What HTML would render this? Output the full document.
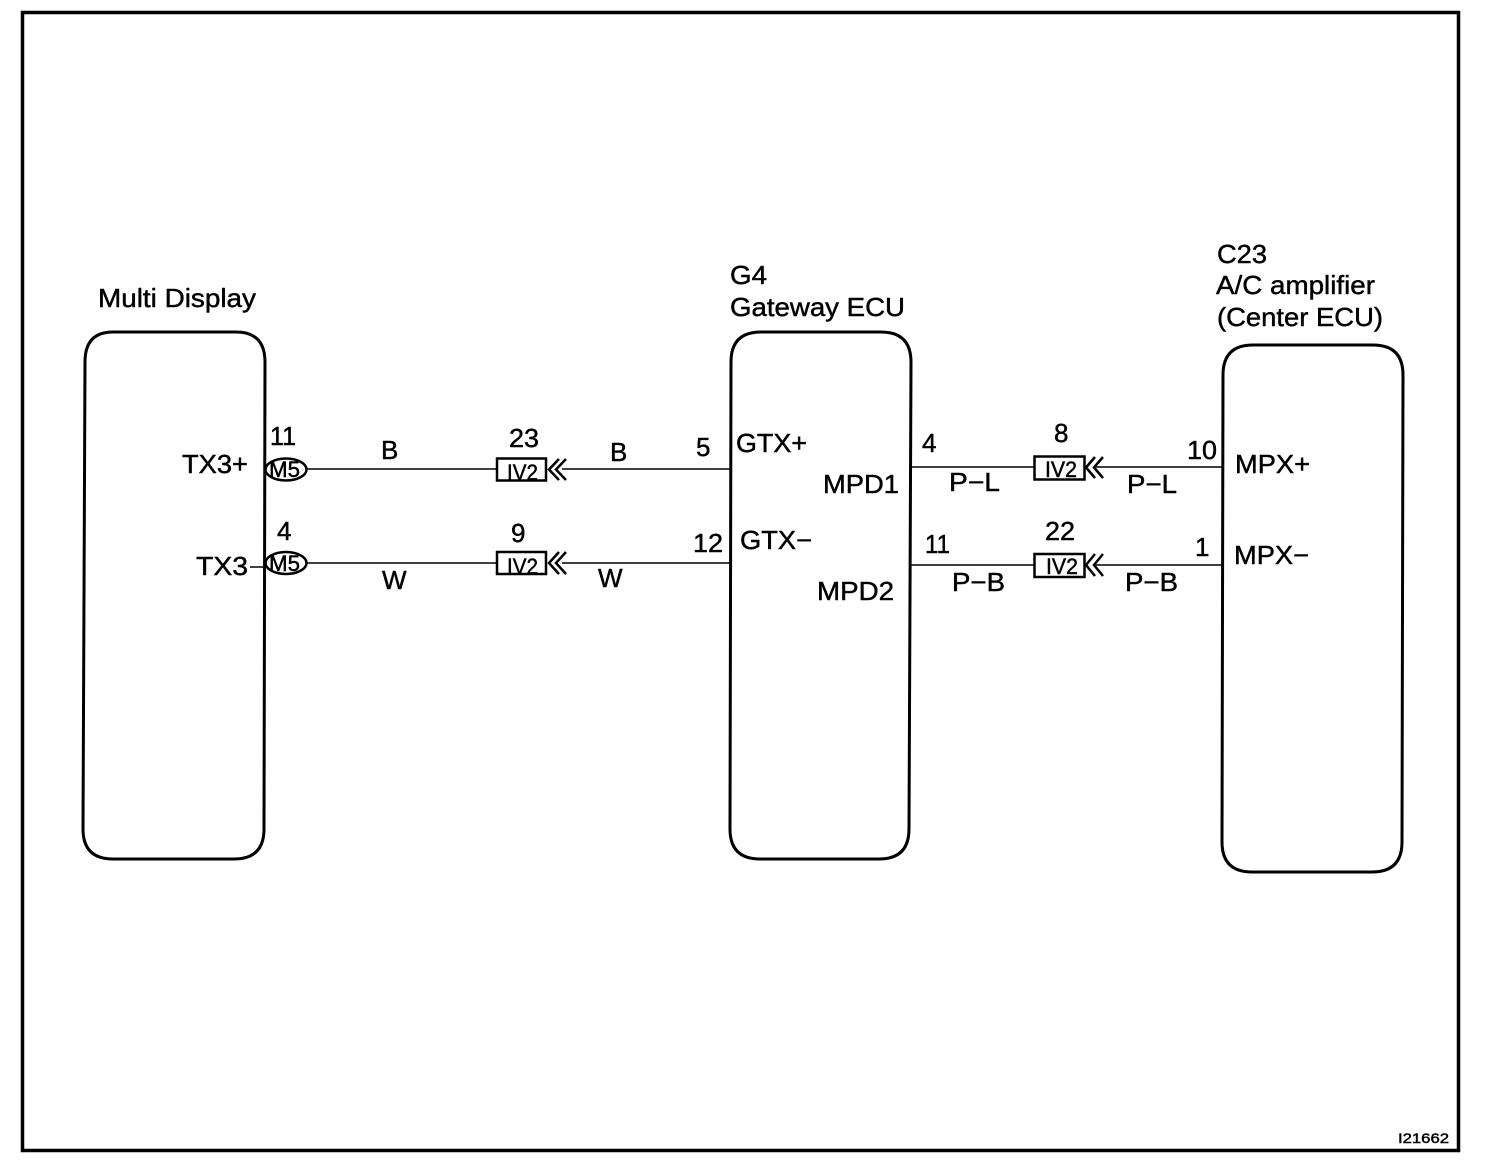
<!DOCTYPE html>
<html><head><meta charset="utf-8"><style>
html,body{margin:0;padding:0;background:#fff}
svg{display:block}
text{font-family:"Liberation Sans",sans-serif;font-size:26px;fill:#000;stroke:#000;stroke-width:.45}
.s{font-size:22px}
.t{font-size:14px}
</style></head><body>
<svg width="1504" height="1176" viewBox="0 0 1504 1176" xmlns="http://www.w3.org/2000/svg">
<g fill="none" stroke="#000">
<rect x="22.5" y="12.5" width="1436" height="1138" stroke-width="3.5"/>
<path stroke-width="3" d="M113 332H236Q265 332 265 362L264 829Q264 859 234 859H113Q83 859 83 829L85 362Q85 332 113 332Z"/>
<path stroke-width="3" d="M761 332H881Q911 332 911 362L909 829Q909 859 879 859H760Q730 859 730 829L731 362Q731 332 761 332Z"/>
<path stroke-width="3" d="M1253 345H1373Q1403 345 1403 375L1402 842Q1402 872 1372 872H1252Q1222 872 1222 842L1223 375Q1223 345 1253 345Z"/>
<g stroke-width="1.600">
<path d="M307 469H497M562 469H731M307 563H497M562 563H731M911 467H1034M1096 467H1224M911 565H1034M1096 565H1224M250 567H265"/>
</g>
<g stroke-width="2.500">
<ellipse cx="286" cy="469.500" rx="20.500" ry="11"/>
<ellipse cx="286" cy="563" rx="20.500" ry="11"/>
<rect x="497" y="458.500" width="49" height="22"/>
<rect x="497" y="552" width="49" height="22"/>
<rect x="1034.500" y="456.500" width="50" height="23"/>
<rect x="1034.500" y="554" width="50" height="23"/>
<path d="M559 459L549 469.500L559 480M566 459L556 469.500L566 480"/>
<path d="M559 552L549 563L559 574M566 552L556 563L566 574"/>
<path d="M1095 457L1086 467.500L1095 478M1103 457L1094 467.500L1103 478"/>
<path d="M1095 554L1086 565L1095 576M1103 554L1094 565L1103 576"/>
</g>
</g>
<text x="98" y="307" textLength="158" lengthAdjust="spacingAndGlyphs">Multi Display</text>
<text x="730" y="284" textLength="37" lengthAdjust="spacingAndGlyphs">G4</text>
<text x="730" y="316" textLength="175" lengthAdjust="spacingAndGlyphs">Gateway ECU</text>
<text x="1217" y="263" textLength="50" lengthAdjust="spacingAndGlyphs">C23</text>
<text x="1216" y="294" textLength="159" lengthAdjust="spacingAndGlyphs">A/C amplifier</text>
<text x="1217" y="326" textLength="166" lengthAdjust="spacingAndGlyphs">(Center ECU)</text>
<text x="270" y="445" textLength="26" lengthAdjust="spacingAndGlyphs">11</text>
<text x="277" y="540">4</text>
<text x="182" y="473" textLength="66" lengthAdjust="spacingAndGlyphs">TX3+</text>
<text x="196" y="575" textLength="52" lengthAdjust="spacingAndGlyphs">TX3</text>
<text x="381" y="459">B</text>
<text x="382" y="589">W</text>
<text x="509" y="447" textLength="30" lengthAdjust="spacingAndGlyphs">23</text>
<text x="511" y="542">9</text>
<text x="610" y="461">B</text>
<text x="598" y="587">W</text>
<text x="696" y="456">5</text>
<text x="693" y="552" textLength="30" lengthAdjust="spacingAndGlyphs">12</text>
<text x="736" y="452" textLength="71" lengthAdjust="spacingAndGlyphs">GTX+</text>
<text x="740" y="549" textLength="72" lengthAdjust="spacingAndGlyphs">GTX−</text>
<text x="823" y="493" textLength="76" lengthAdjust="spacingAndGlyphs">MPD1</text>
<text x="817" y="600" textLength="77" lengthAdjust="spacingAndGlyphs">MPD2</text>
<text x="922" y="452">4</text>
<text x="925" y="553" textLength="25" lengthAdjust="spacingAndGlyphs">11</text>
<text x="949" y="491" textLength="51" lengthAdjust="spacingAndGlyphs">P−L</text>
<text x="952" y="591" textLength="53" lengthAdjust="spacingAndGlyphs">P−B</text>
<text x="1054" y="442">8</text>
<text x="1045" y="540" textLength="30" lengthAdjust="spacingAndGlyphs">22</text>
<text x="1127" y="493" textLength="50" lengthAdjust="spacingAndGlyphs">P−L</text>
<text x="1125" y="591" textLength="53" lengthAdjust="spacingAndGlyphs">P−B</text>
<text x="1187" y="459" textLength="30" lengthAdjust="spacingAndGlyphs">10</text>
<text x="1195" y="556">1</text>
<text x="1235" y="473" textLength="75" lengthAdjust="spacingAndGlyphs">MPX+</text>
<text x="1234" y="564" textLength="75" lengthAdjust="spacingAndGlyphs">MPX−</text>
<text class="s" x="269" y="477" textLength="31" lengthAdjust="spacingAndGlyphs">M5</text>
<text class="s" x="269" y="571" textLength="31" lengthAdjust="spacingAndGlyphs">M5</text>
<text class="s" x="507" y="480" textLength="31" lengthAdjust="spacingAndGlyphs">IV2</text>
<text class="s" x="507" y="574" textLength="31" lengthAdjust="spacingAndGlyphs">IV2</text>
<text class="s" x="1045" y="477" textLength="32" lengthAdjust="spacingAndGlyphs">IV2</text>
<text class="s" x="1046" y="574" textLength="32" lengthAdjust="spacingAndGlyphs">IV2</text>
<text class="t" x="1398" y="1143" textLength="51" lengthAdjust="spacingAndGlyphs">I21662</text>
</svg>
</body></html>
